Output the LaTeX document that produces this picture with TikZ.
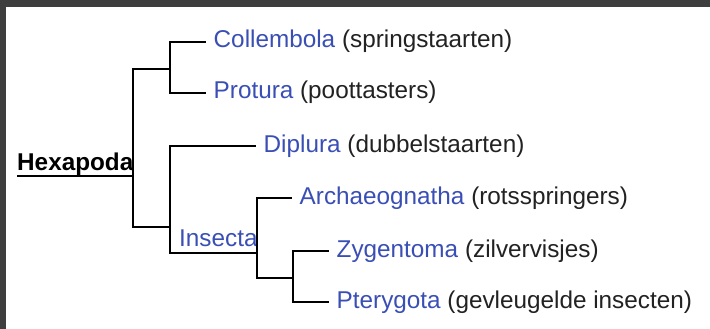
\documentclass[tikz,border=0pt]{standalone}
\usepackage{fontspec}
\setmainfont{Liberation Sans}
\definecolor{lnk}{HTML}{3A4FB5}
\definecolor{txt}{HTML}{222222}
\definecolor{frame}{HTML}{3E3E3E}
\begin{document}
\begin{tikzpicture}[x=1pt,y=-1pt,
  taxon/.style={anchor=west,inner xsep=7.5pt,inner ysep=2pt,text height=12pt,text depth=0pt,
    font=\fontsize{24.3}{29}\selectfont,text=txt},
  lbl/.style={anchor=base west,inner sep=0pt,font=\fontsize{24.3}{29}\selectfont},
  branch/.style={draw=black,line width=1.1pt}]
\useasboundingbox (0,0) rectangle (710,329);
\fill[white] (0,0) rectangle (710,329);
\fill[frame] (0,0) rectangle (710,7);
\fill[frame] (0,0) rectangle (6,329);

% labels
\node[lbl,font=\fontsize{24.3}{29}\selectfont\bfseries,text=black] (hex) at (17,170) {Hexapoda};
\node[lbl,text=lnk] (ins) at (179,246) {Insecta};
\node[taxon] (col) at (206,42) {\textcolor{lnk}{Collembola} (springstaarten)};
\node[taxon] (pro) at (206,93) {\textcolor{lnk}{Protura} (poottasters)};
\node[taxon] (dip) at (256,146) {\textcolor{lnk}{Diplura} (dubbelstaarten)};
\node[taxon] (arc) at (292,198) {\textcolor{lnk}{Archaeognatha} (rotsspringers)};
\node[taxon] (zyg) at (329,251) {\textcolor{lnk}{Zygentoma} (zilvervisjes)};
\node[taxon] (pte) at (329,302) {\textcolor{lnk}{Pterygota} (gevleugelde insecten)};

% branch points
\coordinate (r) at (133,176);
\coordinate (n1) at (170,69);
\coordinate (n2) at (170,227);
\coordinate (n3) at (257,253);
\coordinate (n4) at (293,278);

\draw[branch] ([yshift=-6pt]hex.base west) -- (r);
\draw[branch] (r) |- (n1);
\draw[branch] (r) |- (n2);
\draw[branch] (n1) |- (col.west);
\draw[branch] (n1) |- (pro.west);
\draw[branch] (n2) |- (dip.west);
\draw[branch] (n2) |- (n3);
\draw[branch] (n3) |- (arc.west);
\draw[branch] (n3) |- (n4);
\draw[branch] (n4) |- (zyg.west);
\draw[branch] (n4) |- (pte.west);
\end{tikzpicture}
\end{document}
